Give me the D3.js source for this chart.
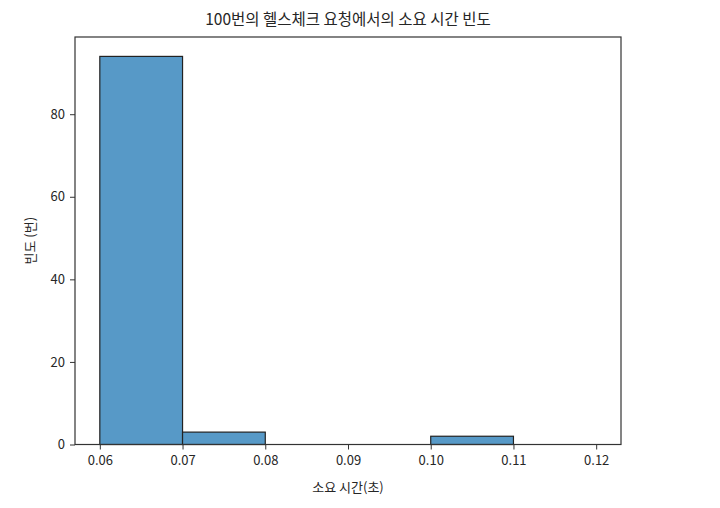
<!DOCTYPE html>
<html>
<head>
<meta charset="utf-8">
<script src="https://d3js.org/d3.v7.min.js"></script>
<style>
    body { margin: 0; background: #fff; }
    text { font-family: "Noto Sans CJK KR", "Noto Sans", sans-serif; fill: #262626; }
</style>
</head>
<body>
<script>
    // histogram bins (seconds) and counts
    var binStarts = [0.06, 0.07, 0.08, 0.09, 0.10, 0.11];
    var binWidth = 0.01;
    var counts = [94, 3, 0, 0, 2, 0];
    var xTicks = [0.06, 0.07, 0.08, 0.09, 0.10, 0.11, 0.12];
    var yTicks = [0, 20, 40, 60, 80];

    var title = "100번의 헬스체크 요청에서의 소요 시간 빈도";
    var xLabel = "소요 시간(초)";
    var yLabel = "빈도 (번)";

    var W = 720, H = 508;
    // plot box (note: "top" is reserved on window, so use pTop etc.)
    var pLeft = 75, pRight = 621, pTop = 37, pBottom = 444.5;

    var svg = d3.select("body").append("svg")
        .attr("width", W)
        .attr("height", H);

    var x = d3.scaleLinear().domain([0.057, 0.123]).range([pLeft, pRight]);
    var y = d3.scaleLinear().domain([0, 98.7]).range([pBottom, pTop]);

    var bins = binStarts.map(function(s, i) { return {x0: s, x1: s + binWidth, n: counts[i]}; });

    // bars
    svg.selectAll("rect.bar")
        .data(bins)
        .enter().append("rect")
        .attr("class", "bar")
        .attr("x", function(d) { return x(d.x0); })
        .attr("y", function(d) { return y(d.n); })
        .attr("width", function(d) { return x(d.x1) - x(d.x0); })
        .attr("height", function(d) { return y(0) - y(d.n); })
        .attr("fill", "#5799c7")
        .attr("stroke", "#222")
        .attr("stroke-width", 1.2);

    // axes
    var xAxis = d3.axisBottom(x).tickValues(xTicks).tickFormat(d3.format(".2f")).tickSizeOuter(0).tickSize(5).tickPadding(6);
    var yAxis = d3.axisLeft(y).tickValues(yTicks).tickSizeOuter(0).tickSize(5).tickPadding(5);

    var gx = svg.append("g").attr("transform", "translate(0," + pBottom + ")").call(xAxis);
    var gy = svg.append("g").attr("transform", "translate(" + pLeft + ",0)").call(yAxis);
    [gx, gy].forEach(function(g) {
        g.select(".domain").remove();
        g.selectAll("line").attr("stroke", "#333").attr("stroke-width", 1);
        g.selectAll("text").style("font-size", "13px").attr("fill", "#262626");
    });

    // frame
    svg.append("rect")
        .attr("x", pLeft).attr("y", pTop)
        .attr("width", pRight - pLeft).attr("height", pBottom - pTop)
        .attr("fill", "none")
        .attr("stroke", "#333")
        .attr("stroke-width", 1.2);

    svg.append("text")
        .attr("x", (pLeft + pRight) / 2).attr("y", 25)
        .attr("text-anchor", "middle")
        .style("font-size", "15.5px")
        .text(title);

    svg.append("text")
        .attr("x", (pLeft + pRight) / 2).attr("y", 492)
        .attr("text-anchor", "middle")
        .style("font-size", "13px")
        .text(xLabel);

    svg.append("text")
        .attr("transform", "translate(35," + ((pTop + pBottom) / 2) + ") rotate(-90)")
        .attr("text-anchor", "middle")
        .style("font-size", "13px")
        .text(yLabel);
</script>
</body>
</html>
